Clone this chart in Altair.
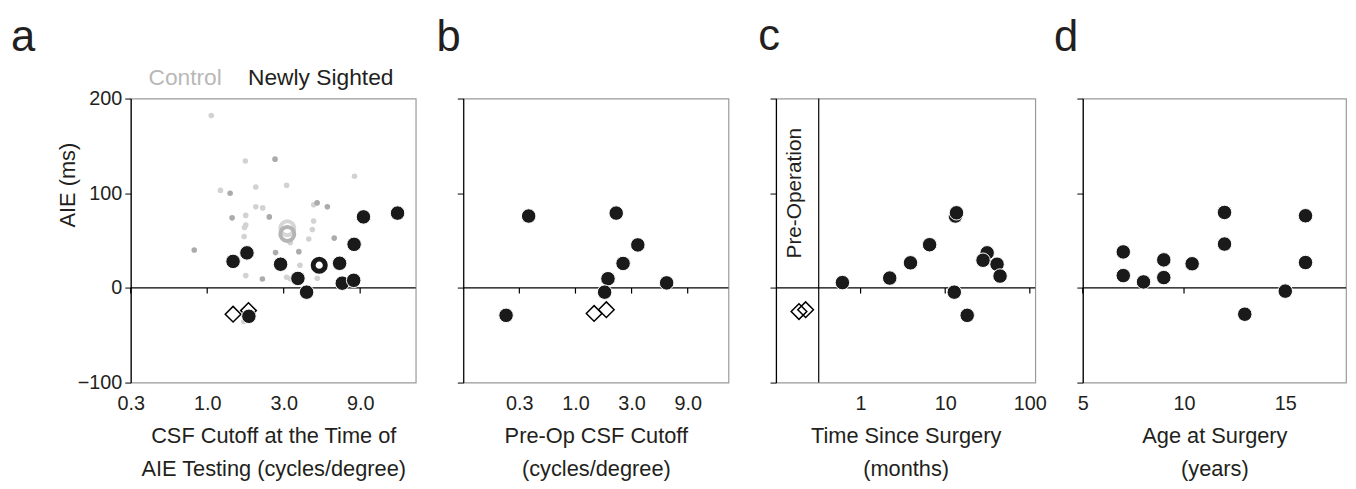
import altair as alt
import pandas as pd

FONT = "Liberation Sans"
INK = "#231f20"

# ---------------- data ----------------
# Panel a – controls (small dots, two shades)
ctrl_light_csf = [1.06, 1.73, 8.3, 1.21, 2.01, 3.13, 2.01, 2.22, 4.62, 1.74, 1.74, 1.71,
                  4.61, 4.53, 1.70, 4.3, 3.3, 1.74, 3.13, 3.31, 3.79, 4.86, 1.69, 3.85]
ctrl_light_aie = [182, 134, 118, 103, 106.5, 108.5, 85.6, 84.5, 87.7, 76.6, 66.5, 63.7,
                  70.7, 61.6, 54.3, 51.6, 48, 13, 11.2, 9.4, 24, 10.1, -35.5, 12]
ctrl_dark_csf = [2.65, 1.39, 4.85, 5.62, 1.43, 2.44, 6.2, 0.83, 2.67, 3.73, 2.21]
ctrl_dark_aie = [136, 100, 89.8, 85.6, 74, 75, 52.6, 40, 37.3, 38.3, 9.4]
ctrl_mean_csf = [3.16, 3.16]
ctrl_mean_aie = [63, 57]
ctrl_mean_shade = ["light", "mid"]
# Panel a – newly sighted
ns_csf = [1.45, 1.77, 2.87, 3.68, 4.17, 6.7, 6.96, 8.2, 8.25, 9.44, 15.4, 1.82]
ns_aie = [28, 37, 25, 10, -4.5, 26, 5, 8, 46, 75, 79, -30]
ns_mean_csf = [5.0]
ns_mean_aie = [24]
preop_a_csf = [1.45, 1.81]
preop_a_aie = [-27.8, -24]
# Panel b – pre-op CSF cutoff
preop_csf = [0.40, 0.257, 2.22, 3.39, 2.54, 1.89, 1.77, 5.96]
preop_aie = [75.9, -29, 79, 45.4, 25.8, 9.7, -4.5, 5.3]
preop_b_csf = [1.44, 1.83]
preop_b_aie = [-27, -23]
# Panel c – time since surgery
months = [0.61, 2.21, 3.89, 6.54, 13.2, 13.6, 12.8, 18.2, 31.3, 28, 41, 44.5]
aie_c = [5.6, 10.4, 26.5, 45.6, 75.9, 79.3, -4.5, -29, 37, 29.2, 25, 12.5]
preop_c_months = [0.187, 0.224]
preop_c_aie = [-25, -23]
preop_boundary = [0.32]
preop_label_x = [0.17]
preop_label_y = [100]
# Panel d – age at surgery
age = [7, 7, 8, 9, 9, 10.4, 12, 12, 13, 15, 16, 16]
aie_d = [38, 13, 6.3, 29.6, 10.9, 25.5, 79.7, 46.3, -27.8, -3.4, 76.2, 26.8]

y_ticks = [-100, 0, 100, 200]
a_ticks = [1 / 3, 1, 3, 9]
c_ticks = [1, 10, 100]
d_ticks = [5, 10, 15]

PANELS = {
    "a": dict(stype="log", domain=[1 / 3, 20], ticks=a_ticks, width=288,
              expr="datum.value < 0.5 ? '0.3' : format(datum.value, '.1f')",
              title=["CSF Cutoff at the Time of", "AIE Testing (cycles/degree)"],
              dx=-121, toff=7),
    "b": dict(stype="log", domain=[1 / 9, 20], ticks=a_ticks, width=268,
              expr="datum.value < 0.5 ? '0.3' : format(datum.value, '.1f')",
              title=["Pre-Op CSF Cutoff", "(cycles/degree)"], dx=-27, toff=39),
    "c": dict(stype="log", domain=[0.1, 116], ticks=c_ticks, width=262,
              expr="format(datum.value, 'd')",
              title=["Time Since Surgery", "(months)"], dx=-18, toff=39),
    "d": dict(stype="linear", domain=[5, 18], ticks=d_ticks, width=266,
              expr="format(datum.value, 'd')",
              title=["Age at Surgery", "(years)"], dx=-29, toff=39),
}
HEIGHT = 287


def X(field, key):
    p = PANELS[key]
    sc = alt.Scale(type=p["stype"], domain=p["domain"], nice=False)
    if p["stype"] == "linear":
        sc = alt.Scale(type="linear", domain=p["domain"], nice=False, zero=False)
    return alt.X(field, type="quantitative", scale=sc,
                 axis=alt.Axis(values=p["ticks"], labelExpr=p["expr"], title=p["title"],
                               grid=False, domain=False, ticks=False, tickSize=0,
                               labelFlush=False, labelFontSize=20, labelPadding=11,
                               labelColor=INK, titleFontSize=22, titleColor=INK,
                               titleFontWeight="normal", titlePadding=13,
                               titleLineHeight=33, labelFont=FONT, titleFont=FONT))


def Y(field, key):
    show = key == "a"
    if show:
        ax = alt.Axis(values=y_ticks, grid=False, domainColor="black", tickColor="black",
                      tickSize=6, labelFontSize=20, labelColor=INK, labelPadding=3,
                      labelFont=FONT, format="d", title="AIE (ms)", titleFont=FONT,
                      titleFontSize=22, titleFontWeight="normal", titleColor=INK,
                      titleAngle=270, titleX=-64, titleY=87, titleAlign="center",
                      titleBaseline="middle", domainWidth=1.2)
    else:
        ax = alt.Axis(values=y_ticks, grid=False, domainColor="black", tickColor="black",
                      tickSize=6, labels=False, title="", domainWidth=1.2)
    return alt.Y(field, type="quantitative",
                 scale=alt.Scale(domain=[-100, 200], nice=False, zero=False), axis=ax)


def zero_layers(key):
    zero = alt.Chart(pd.DataFrame({"y": [0]})).mark_rule(color="black", strokeWidth=1.2).encode(
        y=Y("y", key))
    tk = pd.DataFrame({"x": PANELS[key]["ticks"], "y": [0] * len(PANELS[key]["ticks"]),
                       "y2": [-6] * len(PANELS[key]["ticks"])})
    ticks = alt.Chart(tk).mark_rule(color="black", strokeWidth=1.2).encode(
        x=X("x", key), y=Y("y", key), y2="y2")
    return [zero, ticks]


def dots(xs, ys, key):
    return alt.Chart(pd.DataFrame({"x": xs, "y": ys})).mark_circle(
        size=215, color="#1a1a1a", opacity=1, stroke="white", strokeWidth=1).encode(
        x=X("x", key), y=Y("y", key))


def diamonds(xs, ys, key):
    return alt.Chart(pd.DataFrame({"x": xs, "y": ys})).mark_point(
        shape="diamond", filled=False, size=250, color="black", strokeWidth=1.5,
        opacity=1).encode(x=X("x", key), y=Y("y", key))


def finish(layers, key):
    p = PANELS[key]
    return alt.layer(*layers).properties(
        width=p["width"], height=HEIGHT,
        title=alt.TitleParams(text=key, anchor="start", frame="group", fontSize=44,
                              font=FONT, fontWeight="normal", color=INK, dx=p["dx"],
                              offset=p["toff"]))


# ---------------- panel a ----------------
ka = "a"
light = alt.Chart(pd.DataFrame({"x": ctrl_light_csf, "y": ctrl_light_aie})).mark_circle(
    size=32, color="#d2d2d2", opacity=1).encode(x=X("x", ka), y=Y("y", ka))
dark = alt.Chart(pd.DataFrame({"x": ctrl_dark_csf, "y": ctrl_dark_aie})).mark_circle(
    size=32, color="#ababab", opacity=1).encode(x=X("x", ka), y=Y("y", ka))
cmean = alt.Chart(pd.DataFrame({"x": ctrl_mean_csf, "y": ctrl_mean_aie,
                                "s": ctrl_mean_shade})).mark_point(
    filled=False, size=200, strokeWidth=4, opacity=1).encode(
    x=X("x", ka), y=Y("y", ka),
    color=alt.Color("s:N", scale=alt.Scale(domain=["light", "mid"],
                                           range=["#d6d6d6", "#b4b4b4"]), legend=None))
nmean = alt.Chart(pd.DataFrame({"x": ns_mean_csf, "y": ns_mean_aie})).mark_point(
    filled=False, size=150, strokeWidth=5, color="#1a1a1a", opacity=1).encode(
    x=X("x", ka), y=Y("y", ka))
legend_ctrl = alt.Chart(pd.DataFrame({"t": ["Control"]})).mark_text(
    font=FONT, fontSize=23, color="#b8b8b8", align="center", baseline="middle").encode(
    x=alt.value(55), y=alt.value(-21), text="t:N")
legend_ns = alt.Chart(pd.DataFrame({"t": ["Newly Sighted"]})).mark_text(
    font=FONT, fontSize=23, color=INK, align="center", baseline="middle").encode(
    x=alt.value(192), y=alt.value(-21), text="t:N")
panel_a = finish([light, dark, cmean] + zero_layers(ka) +
                 [diamonds(preop_a_csf, preop_a_aie, ka), dots(ns_csf, ns_aie, ka), nmean,
                  legend_ctrl, legend_ns], ka)

# ---------------- panel b ----------------
kb = "b"
panel_b = finish(zero_layers(kb) + [diamonds(preop_b_csf, preop_b_aie, kb),
                                    dots(preop_csf, preop_aie, kb)], kb)

# ---------------- panel c ----------------
kc = "c"
boundary = alt.Chart(pd.DataFrame({"x": preop_boundary})).mark_rule(
    color="black", strokeWidth=1.2).encode(x=X("x", kc))
pre_lab = alt.Chart(pd.DataFrame({"x": preop_label_x, "y": preop_label_y,
                                  "t": ["Pre-Operation"]})).mark_text(
    font=FONT, fontSize=21, color=INK, angle=270, align="center", baseline="middle").encode(
    x=X("x", kc), y=Y("y", kc), text="t:N")
panel_c = finish(zero_layers(kc) + [boundary, pre_lab,
                                    diamonds(preop_c_months, preop_c_aie, kc),
                                    dots(months, aie_c, kc)], kc)

# ---------------- panel d ----------------
kd = "d"
panel_d = finish(zero_layers(kd) + [dots(age, aie_d, kd)], kd)

chart = alt.hconcat(panel_a, panel_b, panel_c, panel_d, spacing=48, bounds="flush").configure(
    font=FONT, padding={"left": 2, "right": 0, "top": 4, "bottom": 2}
).configure_view(stroke="#9a9a9a", strokeWidth=1.2)

chart.save("out.html", embed_options={"renderer": "svg", "actions": False})
